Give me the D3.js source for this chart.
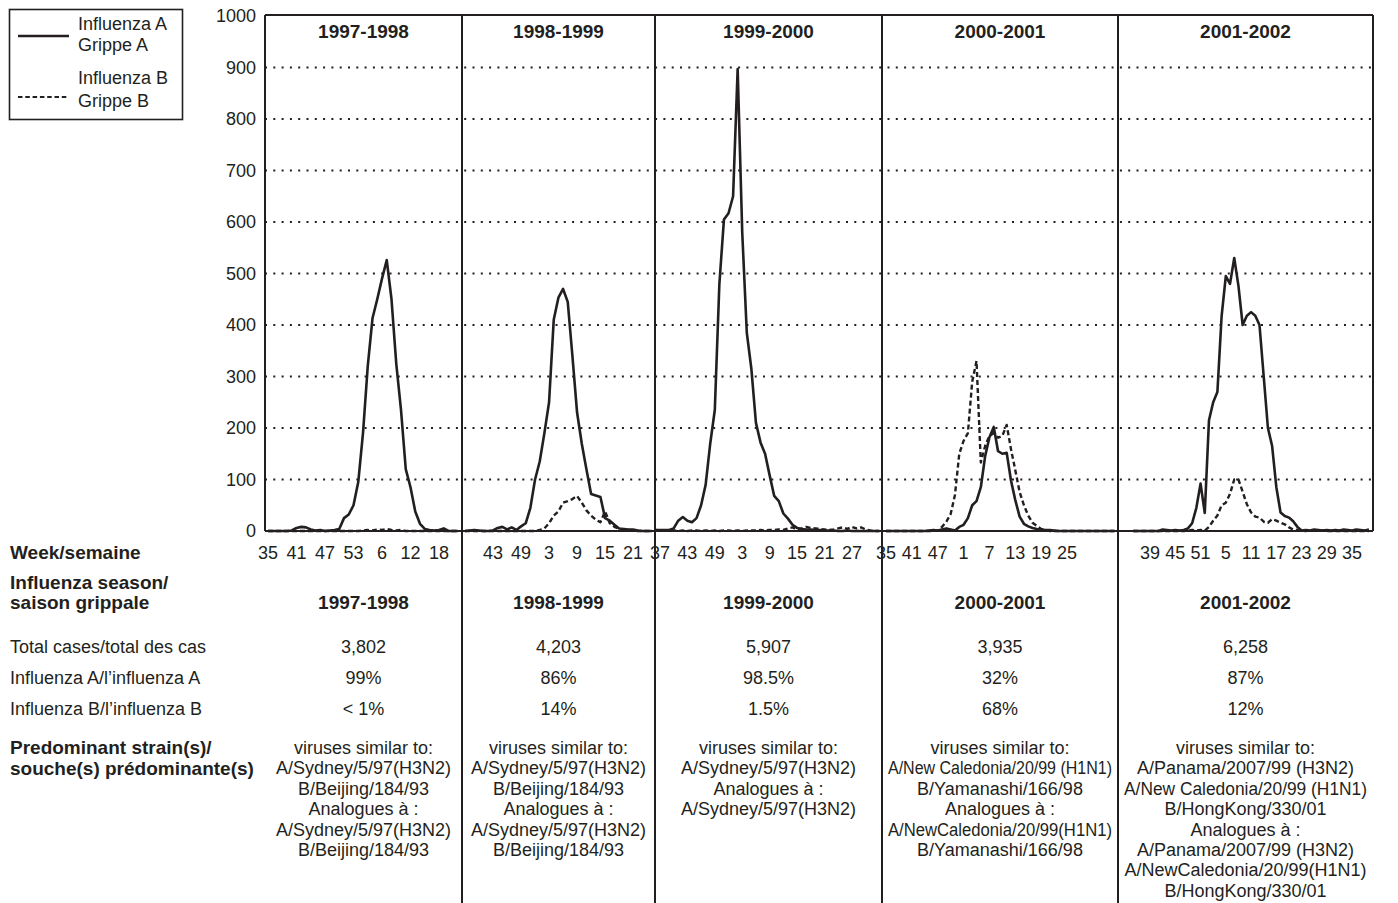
<!DOCTYPE html>
<html><head><meta charset="utf-8">
<script src="https://cdn.jsdelivr.net/npm/d3@7"></script>
<style>
html,body{margin:0;padding:0;background:#fff;}
svg text{font-family:"Liberation Sans",Arial,sans-serif;fill:#231f20;}
</style></head>
<body><svg id="c" width="1398" height="903"></svg>
<script>
// ---------------- DATA ----------------
const seasons = ["1997-1998","1998-1999","1999-2000","2000-2001","2001-2002"];
const startWeek = [35,37,36,35,35];
const weeksInFirstYear = [53,52,52,52,52];
const weekTicks = [
  [35,41,47,53,6,12,18],
  [43,49,3,9,15,21],
  [37,43,49,3,9,15,21,27],
  [35,41,47,1,7,13,19,25],
  [39,45,51,5,11,17,23,29,35]
];
const yTicks = [0,100,200,300,400,500,600,700,800,900,1000];

const fluA_9798 = [0,0,0,0,0,1,6,8,7,3,1,2,0,1,2,4,25,32,50,95,190,320,413,450,490,526,450,325,235,120,85,38,14,4,2,1,2,5,0,0,0];
const fluB_9798 = [0,0,0,0,0,0,0,0,0,0,0,0,0,0,0,0,0,0,0,0,1,2,1,3,2,4,2,1,2,0,0,0,0,0,0,0,0,0,0,0,0];
const fluA_9899 = [0,1,2,1,0,0,1,6,8,3,7,2,9,15,45,100,135,190,250,410,453,470,445,340,230,170,120,72,69,66,25,20,12,5,4,3,3,1,0,0,0];
const fluB_9899 = [0,0,0,0,0,0,0,0,0,0,0,0,0,0,0,0,2,5,15,30,38,55,58,62,68,55,40,30,22,17,38,15,8,4,3,2,1,0,0,0,0];
const fluA_9900 = [2,2,2,2,5,20,27,20,17,25,50,90,170,235,480,605,617,650,897,580,385,315,210,172,150,108,68,58,34,24,12,6,4,3,3,2,2,1,1,1,0,0,1,0,0,0,0,0,0,0];
const fluB_9900 = [2,1,1,0,1,0,1,0,1,1,0,1,0,1,0,1,1,0,1,0,1,1,1,2,1,2,2,3,2,5,7,3,5,8,6,5,4,3,2,3,5,7,4,8,5,7,3,1,0,0];
const fluA_0001 = [0,0,0,0,0,0,0,0,0,0,1,2,1,3,5,3,1,8,12,25,50,58,85,145,182,202,155,150,152,98,60,28,14,9,6,4,3,2,2,1,0,0,0,0,0,0,0,0,0,0,0,0,0,0];
const fluB_0001 = [0,0,0,0,0,0,0,0,0,0,0,0,1,8,18,33,70,150,175,190,290,330,133,165,185,190,181,185,206,159,118,76,50,30,16,10,4,2,0,0,0,0,0,0,0,0,0,0,0,0,0,0,0,0];
const fluA_0102 = [0,0,0,0,0,0,0,3,2,1,2,1,2,5,15,45,92,35,215,250,270,417,495,480,530,476,400,418,425,418,400,300,200,165,85,36,29,26,19,8,1,2,1,3,2,1,2,1,2,1,3,2,1,3,2,1,3];
const fluB_0102 = [0,0,0,0,0,0,0,0,0,0,0,0,0,1,2,1,2,1,8,20,30,50,55,72,100,100,76,52,36,28,26,18,16,23,20,16,13,7,3,2,1,0,2,1,0,1,0,0,0,0,0,0,0,0,0,0,0];

const totalCases = ["3,802","4,203","5,907","3,935","6,258"];
const pctA = ["99%","86%","98.5%","32%","87%"];
const pctB = ["< 1%","14%","1.5%","68%","12%"];
const strains = [
  ["viruses similar to:","A/Sydney/5/97(H3N2)","B/Beijing/184/93","Analogues à :","A/Sydney/5/97(H3N2)","B/Beijing/184/93"],
  ["viruses similar to:","A/Sydney/5/97(H3N2)","B/Beijing/184/93","Analogues à :","A/Sydney/5/97(H3N2)","B/Beijing/184/93"],
  ["viruses similar to:","A/Sydney/5/97(H3N2)","Analogues à :","A/Sydney/5/97(H3N2)"],
  ["viruses similar to:","A/New Caledonia/20/99 (H1N1)","B/Yamanashi/166/98","Analogues à :","A/NewCaledonia/20/99(H1N1)","B/Yamanashi/166/98"],
  ["viruses similar to:","A/Panama/2007/99 (H3N2)","A/New Caledonia/20/99 (H1N1)","B/HongKong/330/01","Analogues à :","A/Panama/2007/99 (H3N2)","A/NewCaledonia/20/99(H1N1)","B/HongKong/330/01"]
];
const rowLabels = ["Total cases/total des cas","Influenza A/l\u2019influenza A","Influenza B/l\u2019influenza B"];
const legendLabels = [["Influenza A","Grippe A"],["Influenza B","Grippe B"]];

const fluA = [fluA_9798,fluA_9899,fluA_9900,fluA_0001,fluA_0102];
const fluB = [fluB_9798,fluB_9899,fluB_9900,fluB_0001,fluB_0102];

// ---------------- LAYOUT ----------------
const ink = "#231f20";
const svg = d3.select("#c");
const plotL = 265, plotR = 1373, plotT = 16, plotB = 531;
const dividers = [462,655,882,1118];
const panelBounds = [[265,462],[462,655],[655,882],[882,1118],[1118,1373]];
const panelLayout = [{x0:268,step:4.75},{x0:465,step:4.67},{x0:655.4,step:4.57},{x0:886,step:4.31},{x0:1133.2,step:4.21}];

const y = d3.scaleLinear().domain([0,1000]).range([plotB,plotT]);

// gridlines
svg.append("g").selectAll("line").data(yTicks.filter(d=>d>0&&d<1000)).join("line")
  .attr("x1",plotL).attr("x2",plotR).attr("y1",d=>y(d)).attr("y2",d=>y(d))
  .attr("stroke",ink).attr("stroke-width",2).attr("stroke-dasharray","2,6.3");

// y axis labels
const yAxis = d3.axisLeft(y).tickValues(yTicks).tickFormat(d3.format("d")).tickSize(0).tickPadding(9);
const gy = svg.append("g").attr("transform",`translate(${plotL},0)`).call(yAxis);
gy.select(".domain").remove();
gy.selectAll("text").attr("font-size",18).style("font-family",'"Liberation Sans",Arial,sans-serif').attr("fill",ink);

// frame lines
svg.append("line").attr("x1",plotL).attr("x2",plotR).attr("y1",plotT-1).attr("y2",plotT-1).attr("stroke",ink).attr("stroke-width",2);
svg.append("line").attr("x1",plotL).attr("x2",plotL).attr("y1",plotT-1).attr("y2",plotB).attr("stroke",ink).attr("stroke-width",2);
svg.append("line").attr("x1",plotR).attr("x2",plotR).attr("y1",plotT-1).attr("y2",plotB).attr("stroke",ink).attr("stroke-width",2);
svg.append("line").attr("x1",plotL).attr("x2",plotR).attr("y1",plotB).attr("y2",plotB).attr("stroke",ink).attr("stroke-width",2);
svg.selectAll(".div").data(dividers).join("line").attr("class","div")
  .attr("x1",d=>d).attr("x2",d=>d).attr("y1",plotT-1).attr("y2",903).attr("stroke",ink).attr("stroke-width",2);

function weekLabel(p,i){
  let w = startWeek[p]+i;
  if (w>weeksInFirstYear[p]) w -= weeksInFirstYear[p];
  return w;
}

seasons.forEach((s,p)=>{
  const n = fluA[p].length;
  const L = panelLayout[p];
  const x = d3.scaleLinear().domain([0,n-1]).range([L.x0, L.x0 + L.step*(n-1)]);
  const cx = (panelBounds[p][0]+panelBounds[p][1])/2;
  const maxW = panelBounds[p][1]-panelBounds[p][0]-12;
  const g = svg.append("g");
  const line = d3.line().x((d,i)=>x(i)).y(d=>y(d)).curve(d3.curveLinear);
  g.append("path").datum(fluB[p]).attr("d",line).attr("fill","none").attr("stroke",ink)
    .attr("stroke-width",2.4).attr("stroke-dasharray","5,3").attr("stroke-linejoin","round");
  g.append("path").datum(fluA[p]).attr("d",line).attr("fill","none").attr("stroke",ink)
    .attr("stroke-width",2.6).attr("stroke-linejoin","round");

  // week ticks
  const idx = [];
  let from = 0;
  weekTicks[p].forEach(t=>{
    for (let i=from;i<n;i++){ if (weekLabel(p,i)===t){ idx.push({i,t}); from=i+1; break; } }
  });
  g.selectAll(".wk").data(idx).join("text").attr("class","wk")
    .attr("x",d=>x(d.i)).attr("y",559).attr("text-anchor","middle").attr("font-size",18).text(d=>d.t);

  // titles
  g.append("text").attr("x",cx).attr("y",38).attr("text-anchor","middle").attr("font-size",19).attr("font-weight","bold").text(s);
  g.append("text").attr("x",cx).attr("y",609).attr("text-anchor","middle").attr("font-size",19).attr("font-weight","bold").text(s);
  [totalCases[p],pctA[p],pctB[p]].forEach((v,k)=>{
    g.append("text").attr("x",cx).attr("y",[653,684,715][k]).attr("text-anchor","middle").attr("font-size",18).text(v);
  });
  strains[p].forEach((v,k)=>{
    const t = g.append("text").attr("x",cx).attr("y",754+k*20.4).attr("text-anchor","middle").attr("font-size",18).text(v);
    const w = t.node().getComputedTextLength();
    if (w > maxW) t.attr("textLength",maxW).attr("lengthAdjust","spacingAndGlyphs");
  });
});

// left table labels
const lab = svg.append("g");
lab.append("text").attr("x",10).attr("y",559).attr("font-size",19).attr("font-weight","bold").text("Week/semaine");
lab.append("text").attr("x",10).attr("y",589).attr("font-size",19).attr("font-weight","bold").text("Influenza season/");
lab.append("text").attr("x",10).attr("y",609).attr("font-size",19).attr("font-weight","bold").text("saison grippale");
rowLabels.forEach((t,k)=>lab.append("text").attr("x",10).attr("y",[653,684,715][k]).attr("font-size",18).text(t));
lab.append("text").attr("x",10).attr("y",754).attr("font-size",19).attr("font-weight","bold").text("Predominant strain(s)/");
lab.append("text").attr("x",10).attr("y",775).attr("font-size",19).attr("font-weight","bold").text("souche(s) pr\u00e9dominante(s)");

// legend
const lg = svg.append("g");
lg.append("rect").attr("x",9.5).attr("y",9.5).attr("width",173).attr("height",110).attr("fill","none").attr("stroke",ink).attr("stroke-width",1.6);
lg.append("line").attr("x1",18).attr("x2",69).attr("y1",36).attr("y2",36).attr("stroke",ink).attr("stroke-width",2.4);
lg.append("line").attr("x1",18).attr("x2",69).attr("y1",97).attr("y2",97).attr("stroke",ink).attr("stroke-width",2.2).attr("stroke-dasharray","4.5,2.8");
legendLabels.forEach((pair,k)=>{
  pair.forEach((t,j)=>{
    lg.append("text").attr("x",78).attr("y",[[30,51],[84,107]][k][j]).attr("font-size",18).text(t);
  });
});
</script></body></html>
